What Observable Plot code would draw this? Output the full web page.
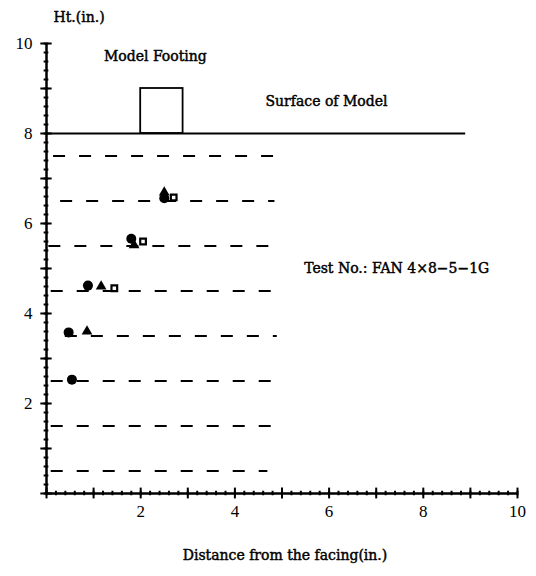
<!DOCTYPE html>
<html><head><meta charset="utf-8">
<script src="https://cdn.jsdelivr.net/npm/d3@7"></script>
<script src="https://cdn.jsdelivr.net/npm/@observablehq/plot@0.6"></script>
<style>body{margin:0;background:#fff}</style>
</head><body><div id="chart"></div>
<script>
// Tick labels
const xTickLabels = [2, 4, 6, 8, 10];
const yTickLabels = [2, 4, 6, 8, 10];
// Layer (reinforcement) dashed lines
const layerY = [7.5, 6.5, 5.5, 4.5, 3.5, 2.5, 1.5, 0.5];
const layerStart = [0.15, 0.3, 0.05, 0.1, 0.4, 0.1, 0.1, 0.1];
const layerEnd = [4.85, 4.85, 4.9, 4.85, 4.9, 4.9, 4.9, 4.7];
// Surface and footing
const surfaceY = [8];
const surfaceEnd = 8.9;
const footing = {x1: 2, x2: 2.9, y1: 8, y2: 9};
// Measured points
const circleX = [2.5, 1.8, 0.88, 0.47, 0.54];
const circleY = [6.56, 5.66, 4.62, 3.58, 2.53];
const triangleX = [2.5, 1.86, 1.16, 0.86];
const triangleY = [6.69, 5.52, 4.6, 3.6];
const squareX = [2.7, 2.05, 1.44];
const squareY = [6.58, 5.6, 4.56];
// Annotations
const annotations = [
  {x: 1.22, y: 9.72, text: "Model Footing"},
  {x: 4.65, y: 8.7, text: "Surface of Model"},
  {x: 5.47, y: 5.0, text: "Test No.: FAN 4×8−5−1G"}
];

const layers = layerY.map((y, i) => ({y, x1: layerStart[i], x2: layerEnd[i]}));
const circles = circleX.map((x, i) => ({x, y: circleY[i]}));
const triangles = triangleX.map((x, i) => ({x, y: triangleY[i]}));
const squares = squareX.map((x, i) => ({x, y: squareY[i]}));
const minorTicks = d3.range(0, 10.001, 0.2).map(v => +v.toFixed(1));
const majorTicks = d3.range(0, 11, 1);
const textFont = "'DejaVu Serif', serif";
const textStyle = {fontSize: 14, fontFamily: textFont, fill: "#000", stroke: "#000", strokeWidth: 0.45};

const chart = Plot.plot({
  width: 536, height: 576,
  marginLeft: 46, marginRight: 19, marginTop: 43, marginBottom: 83,
  style: {fontFamily: "'Liberation Serif', serif", fontSize: "17px", background: "#fff", color: "#000"},
  x: {domain: [0, 10]},
  y: {domain: [0, 10]},
  marks: [
    Plot.axisX({ticks: xTickLabels, tickSize: 0, tickPadding: 11, label: null, fontSize: 17}),
    Plot.axisY({ticks: yTickLabels, tickSize: 0, tickPadding: 14, label: null, fontSize: 17}),
    // dashed layers
    Plot.ruleY(layers, {y: "y", x1: "x1", x2: "x2", stroke: "#000", strokeWidth: 2, strokeDasharray: "12,14"}),
    // surface
    Plot.ruleY(surfaceY, {x1: 0, x2: surfaceEnd, stroke: "#000", strokeWidth: 1.8}),
    Plot.rect([footing], {x1: "x1", x2: "x2", y1: "y1", y2: "y2", fill: "none", stroke: "#000", strokeWidth: 1.8}),
    // axes lines
    Plot.ruleY([0], {x1: 0, x2: 10, stroke: "#000", strokeWidth: 2.5}),
    Plot.ruleX([0], {y1: 0, y2: 10, stroke: "#000", strokeWidth: 2.5}),
    // tick marks on x axis
    Plot.ruleX(minorTicks, {x: d => d, y1: -0.05, y2: 0.05, stroke: "#000", strokeWidth: 2}),
    Plot.ruleX(majorTicks, {x: d => d, y1: -0.12, y2: 0.12, stroke: "#000", strokeWidth: 2}),
    // tick marks on y axis
    Plot.ruleY(minorTicks, {y: d => d, x1: -0.05, x2: 0.05, stroke: "#000", strokeWidth: 2}),
    Plot.ruleY(majorTicks, {y: d => d, x1: -0.12, x2: 0.12, stroke: "#000", strokeWidth: 2}),
    // points
    Plot.dot(circles, {x: "x", y: "y", r: 5, fill: "#000", symbol: "circle"}),
    Plot.dot(triangles, {x: "x", y: "y", r: 4, fill: "#000", symbol: "triangle"}),
    Plot.dot(squares, {x: "x", y: "y", r: 3.2, fill: "#fff", stroke: "#000", strokeWidth: 2.2, symbol: "square"}),
    // annotations
    Plot.text(annotations, {x: "x", y: "y", text: "text", textAnchor: "start", ...textStyle}),
    // axis titles
    Plot.text(["Ht.(in.)"], {frameAnchor: "top-left", text: d => d, textAnchor: "start", lineAnchor: "middle", dx: 7, dy: -26, ...textStyle}),
    Plot.text(["Distance from the facing(in.)"], {frameAnchor: "bottom", text: d => d, lineAnchor: "middle", dx: 3, dy: 62, ...textStyle})
  ]
});
document.getElementById("chart").appendChild(chart);
</script>
</body></html>
